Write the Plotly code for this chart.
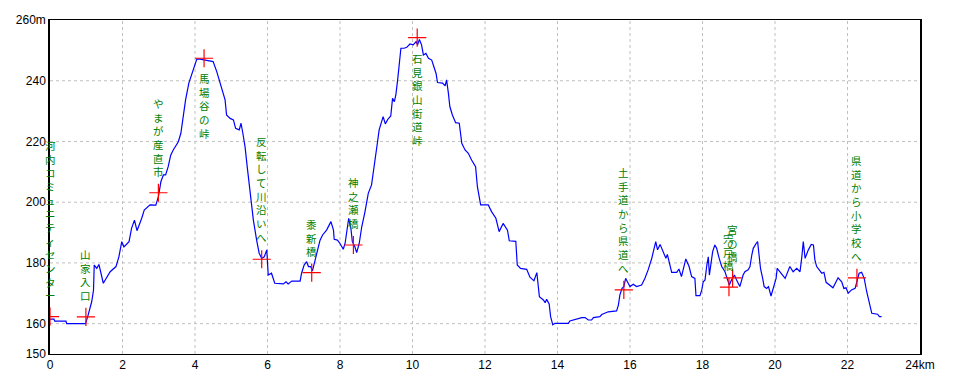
import plotly.graph_objects as go

# distance (km) and elevation (m) along the route
dist_km = [
    0.00, 0.11, 0.13, 0.44, 0.46, 0.98, 1.04, 1.15, 1.20, 1.22, 1.29, 1.35, 1.47, 1.66, 1.82, 1.90,
    1.98, 2.04, 2.18, 2.25, 2.33, 2.40, 2.53, 2.60, 2.76, 2.92, 2.99, 3.06, 3.13, 3.19, 3.26, 3.33,
    3.40, 3.54, 3.61, 3.68, 3.74, 3.83, 3.94, 4.05, 4.14, 4.25, 4.37, 4.50, 4.60, 4.69, 4.76, 4.83,
    4.87, 4.97, 5.06, 5.12, 5.22, 5.27, 5.32, 5.38, 5.44, 5.50, 5.54, 5.61, 5.70, 5.77, 5.84, 5.91,
    5.98, 6.00, 6.02, 6.11, 6.20, 6.44, 6.51, 6.57, 6.67, 6.90, 6.94, 7.01, 7.08, 7.13, 7.19, 7.24,
    7.29, 7.36, 7.45, 7.52, 7.63, 7.75, 7.82, 7.84, 7.93, 8.00, 8.09, 8.14, 8.19, 8.24, 8.30, 8.34,
    8.41, 8.46, 8.53, 8.60, 8.69, 8.78, 8.87, 8.92, 8.97, 9.03, 9.08, 9.15, 9.19, 9.25, 9.32, 9.40,
    9.45, 9.50, 9.54, 9.59, 9.64, 9.68, 9.77, 9.84, 9.93, 10.02, 10.10, 10.14, 10.19, 10.25, 10.30,
    10.37, 10.44, 10.53, 10.59, 10.65, 10.69, 10.83, 10.90, 10.94, 10.99, 11.03, 11.10, 11.19, 11.29,
    11.36, 11.45, 11.54, 11.63, 11.74, 11.79, 11.84, 11.88, 12.09, 12.18, 12.30, 12.39, 12.50, 12.62,
    12.67, 12.85, 12.89, 12.98, 13.15, 13.24, 13.35, 13.43, 13.50, 13.61, 13.66, 13.70, 13.77, 13.81,
    13.87, 13.93, 14.30, 14.34, 14.67, 14.76, 14.85, 14.94, 14.99, 15.17, 15.22, 15.40, 15.63, 15.68,
    15.72, 15.78, 15.83, 15.88, 15.95, 16.00, 16.09, 16.18, 16.32, 16.41, 16.50, 16.60, 16.71, 16.76,
    16.83, 16.92, 16.99, 17.03, 17.10, 17.15, 17.29, 17.35, 17.42, 17.54, 17.63, 17.70, 17.79, 17.82,
    17.93, 17.98, 18.02, 18.07, 18.12, 18.16, 18.19, 18.23, 18.28, 18.34, 18.39, 18.46, 18.53, 18.62,
    18.68, 18.74, 18.80, 18.88, 18.94, 19.03, 19.12, 19.17, 19.26, 19.31, 19.36, 19.40, 19.48, 19.52,
    19.56, 19.60, 19.66, 19.70, 19.77, 19.82, 19.89, 19.95, 20.03, 20.06, 20.14, 20.28, 20.41, 20.50,
    20.60, 20.69, 20.74, 20.78, 20.83, 20.92, 21.00, 21.06, 21.10, 21.15, 21.29, 21.35, 21.41, 21.52,
    21.60, 21.74, 21.84, 21.90, 21.96, 22.02, 22.11, 22.21, 22.27, 22.32, 22.39, 22.46, 22.53, 22.60,
    22.67, 22.83, 22.88, 22.94,
]
elev_m = [
    161.5, 161.5, 160.8, 160.8, 160.0, 160.0, 162.3, 167.2, 171.0, 179.3, 178.2, 179.5, 173.3, 177.1, 178.8, 182.0,
    187.0, 185.3, 187.0, 191.4, 194.1, 190.6, 194.7, 197.4, 199.1, 199.0, 201.8, 206.8, 209.0, 209.0, 211.7, 215.5,
    217.2, 219.9, 222.7, 228.7, 233.7, 239.2, 243.5, 247.1, 247.1, 246.8, 246.7, 246.3, 243.0, 239.2, 237.0, 233.7,
    228.7, 227.6, 227.1, 224.3, 223.8, 226.0, 222.7, 218.3, 211.7, 205.1, 200.7, 194.1, 187.5, 183.2, 181.5, 182.0,
    184.3, 181.0, 176.0, 176.6, 173.3, 173.1, 173.8, 173.1, 174.0, 174.0, 176.6, 179.3, 180.4, 178.8, 178.8, 177.4,
    179.8, 183.2, 187.5, 189.2, 190.8, 193.6, 190.8, 187.8, 187.5, 186.4, 184.5, 186.4, 190.8, 194.7, 191.4, 187.0,
    185.3, 183.4, 186.4, 191.9, 196.9, 202.9, 205.7, 210.6, 215.0, 219.4, 223.8, 227.1, 228.2, 225.8, 227.3, 228.4,
    234.2, 233.1, 235.3, 240.3, 245.8, 250.7, 250.7, 251.0, 252.1, 251.8, 252.9, 251.8, 253.6, 251.8, 248.5,
    249.0, 247.4, 246.8, 244.6, 242.4, 239.4, 239.2, 238.3, 240.3, 235.9, 231.5, 228.7, 226.2, 226.0,
    219.4, 217.2, 216.1, 213.9, 211.7, 205.1, 200.9, 199.1, 199.1, 196.9, 194.7, 190.3, 193.0, 190.8,
    187.3, 187.1, 179.3, 178.2, 177.9, 175.3, 174.1, 176.8, 168.9, 167.8, 166.9, 168.0, 166.5, 162.3,
    159.6, 160.1, 160.1, 160.9, 162.0, 162.0, 161.2, 161.2, 162.0, 162.3, 163.0, 163.9, 164.2, 166.1,
    169.4, 171.6, 172.2, 174.9, 173.3, 172.2, 173.0, 172.2, 172.7, 174.9, 177.7, 181.5, 187.0, 184.3,
    186.1, 183.7, 181.5, 182.8, 179.3, 176.9, 176.9, 178.0, 175.5, 181.3, 178.8, 175.5, 174.9, 169.2,
    169.2, 171.1, 173.8, 174.4, 179.3, 182.0, 176.0, 180.4, 183.7, 185.9, 184.8, 181.5, 178.8, 177.1,
    174.9, 172.7, 174.4, 176.0, 174.4, 172.2, 176.0, 177.1, 177.7, 178.8, 182.6, 184.8, 186.4, 187.0,
    182.6, 178.2, 174.9, 172.2, 171.6, 172.2, 169.1, 171.6, 174.9, 178.2, 177.1, 174.9, 178.8, 177.1,
    178.2, 177.1, 182.0, 187.0, 181.5, 184.3, 186.1, 185.9, 181.0, 178.8, 176.6, 176.9, 173.6, 172.7,
    171.8, 175.1, 173.8, 171.6, 171.8, 170.0, 171.1, 171.6, 174.4, 176.6, 176.9, 174.9, 170.5, 167.2,
    163.4, 163.1, 162.3, 162.3,
]

# waypoints
wp_names = ["河内コミュニティセンター", "山家入口", "やまが産直市", "馬場谷の峠", "反転して川沿いへ",
            "黍新橋", "神之瀬橋", "石見銀山街道峠", "土手道から県道へ", "宍戸橋", "宮の橋",
            "県道から小学校へ"]
wp_km = [0.0, 0.99, 2.99, 4.25, 5.84, 7.22, 8.37, 10.13, 15.83, 18.73, 18.83, 22.26]
wp_elev = [162.3, 162.2, 203.1, 247.4, 181.2, 176.8, 185.9, 254.2, 171.1, 172.0, 175.1, 175.1]
wp_below = [False, False, False, True, False, False, False, True, False, False, False, False]

x_ticks = [0, 2, 4, 6, 8, 10, 12, 14, 16, 18, 20, 22, 24]
x_tick_text = ["0", "2", "4", "6", "8", "10", "12", "14", "16", "18", "20", "22", "24km"]
y_ticks = [150, 160, 180, 200, 220, 240, 260]
y_tick_text = ["150", "160", "180", "200", "220", "240", "260m"]

fig = go.Figure()

# dashed grid lines (inner only)
for xv in x_ticks[1:-1]:
    fig.add_shape(type="line", x0=xv, x1=xv, y0=150, y1=260, xref="x", yref="y",
                  line=dict(color="#c0c0c0", width=1, dash="3px,3px"), layer="below")
for yv in y_ticks[1:-1]:
    fig.add_shape(type="line", x0=0, x1=24, y0=yv, y1=yv, xref="x", yref="y",
                  line=dict(color="#c0c0c0", width=1, dash="3px,3px"), layer="below")

fig.add_trace(go.Scatter(x=dist_km, y=elev_m, mode="lines",
                         line=dict(color="#0000ff", width=1.2), hoverinfo="skip"))

fig.add_trace(go.Scatter(x=wp_km, y=wp_elev, mode="markers",
                         marker=dict(symbol="cross-thin", size=13,
                                     line=dict(color="#ff0000", width=1.2)),
                         hoverinfo="skip"))

for name, xk, ye, below in zip(wp_names, wp_km, wp_elev, wp_below):
    fig.add_annotation(x=xk, y=ye, xref="x", yref="y",
                       text="<br>".join(list(name)), showarrow=False,
                       font=dict(family="Noto Sans CJK JP", size=10.5, color="#008000"),
                       xanchor="center",
                       yanchor="top" if below else "bottom",
                       yshift=-11 if below else 12)

fig.update_layout(
    width=960, height=384,
    margin=dict(l=50, r=40, t=20, b=30),
    paper_bgcolor="white", plot_bgcolor="white",
    showlegend=False,
    font=dict(family="Liberation Sans", size=12, color="black"),
    xaxis=dict(range=[0, 24], tickmode="array", tickvals=x_ticks, ticktext=x_tick_text,
               showgrid=False, zeroline=False, showline=True, linecolor="black",
               linewidth=1, mirror=True, ticks="", ticklen=0),
    yaxis=dict(range=[150, 260], tickmode="array", tickvals=y_ticks, ticktext=y_tick_text,
               showgrid=False, zeroline=False, showline=True, linecolor="black",
               linewidth=1.5, mirror=True, ticks="", ticklen=0),
)

fig.write_html("out.html")
